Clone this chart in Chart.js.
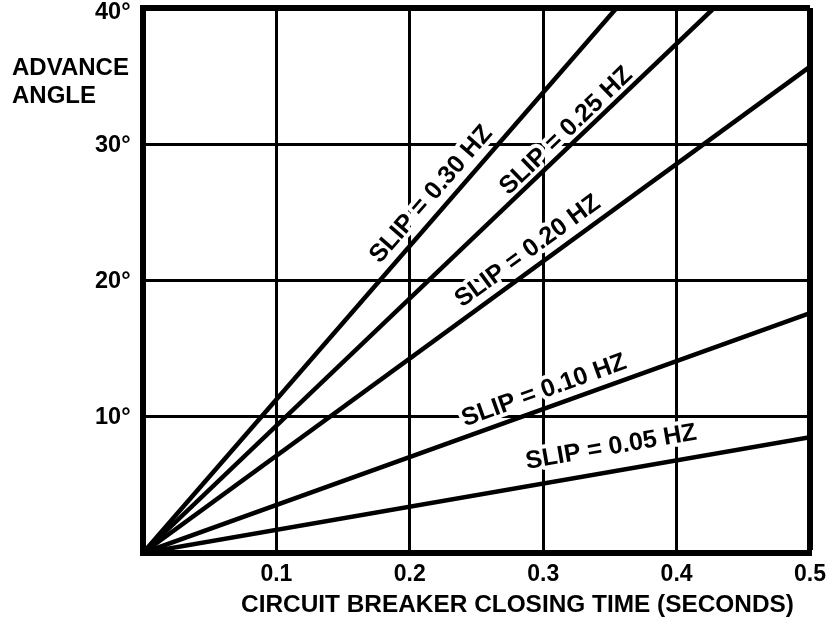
<!DOCTYPE html>
<html>
<head>
<meta charset="utf-8">
<script src="https://cdn.jsdelivr.net/npm/chart.js@4.4.0/dist/chart.umd.min.js"></script>
<style>
html,body{margin:0;padding:0;background:#fff;}
#wrap{width:834px;height:622px;}
</style>
</head>
<body>
<div id="wrap"><canvas id="c" width="834" height="622"></canvas></div>
<script>
// ---- data ----
const slipLabels = ['SLIP = 0.05 HZ', 'SLIP = 0.10 HZ', 'SLIP = 0.20 HZ', 'SLIP = 0.25 HZ', 'SLIP = 0.30 HZ'];
const startTimes = [0, 0, 0, 0, 0];
const startAngles = [0, 0, 0, 0, 0];
const endTimes = [0.5, 0.5, 0.5, 0.428, 0.355];
const endAngles = [8.5, 17.6, 35.7, 40, 40];
const xTickLabels = ['', '0.1', '0.2', '0.3', '0.4', '0.5'];
const yTickLabels = ['', '10°', '20°', '30°', '40°'];
const xTitle = 'CIRCUIT BREAKER CLOSING TIME (SECONDS)';
const yTitle = ['ADVANCE', 'ANGLE'];

// ---- label placement (time along line for centre, perpendicular offset px) ----
const labelAlong = [0.354, 0.305, 0.296, 0.324, 0.226];
const labelOffset = [24, 17, 17, 13, 17.5];

const FONT = '"Liberation Sans", Arial, Helvetica, sans-serif';

const datasets = slipLabels.map((lab, i) => ({
  label: lab,
  data: [{x: startTimes[i], y: startAngles[i]}, {x: endTimes[i], y: endAngles[i]}],
  borderColor: '#000',
  borderWidth: 4.5,
  pointRadius: 0,
  tension: 0,
  fill: false
}));

const slipLabelPlugin = {
  id: 'slipLabelPlugin',
  beforeDatasetsDraw(chart) {
    const {ctx} = chart;
    const xs = chart.scales.x, ys = chart.scales.y;
    ctx.save();
    ctx.font = 'bold 25px ' + FONT;
    ctx.textAlign = 'center';
    ctx.textBaseline = 'middle';
    slipLabels.forEach((text, i) => {
      const x0 = xs.getPixelForValue(startTimes[i]), y0 = ys.getPixelForValue(startAngles[i]);
      const x1 = xs.getPixelForValue(endTimes[i]), y1 = ys.getPixelForValue(endAngles[i]);
      const ang = Math.atan2(y1 - y0, x1 - x0);
      const f = (labelAlong[i] - startTimes[i]) / (endTimes[i] - startTimes[i]);
      const px = x0 + (x1 - x0) * f, py = y0 + (y1 - y0) * f;
      const cx = px + Math.sin(ang) * labelOffset[i];
      const cy = py - Math.cos(ang) * labelOffset[i];
      ctx.save();
      ctx.translate(cx, cy);
      ctx.rotate(ang);
      ctx.lineJoin = 'round';
      ctx.lineWidth = 8;
      ctx.strokeStyle = '#fff';
      ctx.strokeText(text, 0, 0);
      ctx.fillStyle = '#000';
      ctx.fillText(text, 0, 0);
      ctx.restore();
    });
    ctx.restore();
  },
  afterDraw(chart) {
    const {ctx} = chart;
    ctx.save();
    ctx.fillStyle = '#000';
    ctx.font = 'bold 24px ' + FONT;
    ctx.textBaseline = 'alphabetic';
    ctx.textAlign = 'left';
    ctx.fillText(yTitle[0], 12, 75);
    ctx.fillText(yTitle[1], 12, 103);
    ctx.font = 'bold 24.4px ' + FONT;
    ctx.textAlign = 'center';
    ctx.fillText(xTitle, 517.5, 612);
    ctx.restore();
  }
};

const lastY = yTickLabels.length - 1;

new Chart(document.getElementById('c'), {
  type: 'line',
  data: {datasets},
  options: {
    responsive: false,
    animation: false,
    devicePixelRatio: 1,
    layout: {padding: {top: 8, right: 22, left: 95, bottom: 0}},
    plugins: {legend: {display: false}, tooltip: {enabled: false}},
    scales: {
      x: {
        type: 'linear', min: 0, max: 0.5,
        ticks: {
          stepSize: 0.1, padding: 8, maxRotation: 0, autoSkip: false, color: '#000',
          font: {family: FONT, size: 23, weight: 'bold'},
          callback: (v, i) => xTickLabels[i]
        },
        grid: {color: '#000', drawTicks: false, lineWidth: c => (c.index === xTickLabels.length - 1 ? 6 : 3)},
        border: {display: true, color: '#000', width: 6},
        afterFit: s => { s.height = 69; }
      },
      y: {
        type: 'linear', min: 0, max: 40,
        ticks: {
          stepSize: 10, padding: 0, crossAlign: 'far', labelOffset: 1, color: '#000',
          font: c => ({family: FONT, size: 23.5, weight: 'bold', lineHeight: c.index === lastY ? '8px' : 0.5}),
          // top label pushed down below the frame edge, as in the original
          callback: (v, i) => (i === lastY ? ['', yTickLabels[i]] : yTickLabels[i])
        },
        grid: {color: '#000', drawTicks: false, lineWidth: c => (c.index === lastY ? 6 : 3)},
        border: {display: true, color: '#000', width: 6},
        afterFit: s => { s.width = 48; }
      }
    }
  },
  plugins: [slipLabelPlugin]
});
</script>
</body>
</html>
